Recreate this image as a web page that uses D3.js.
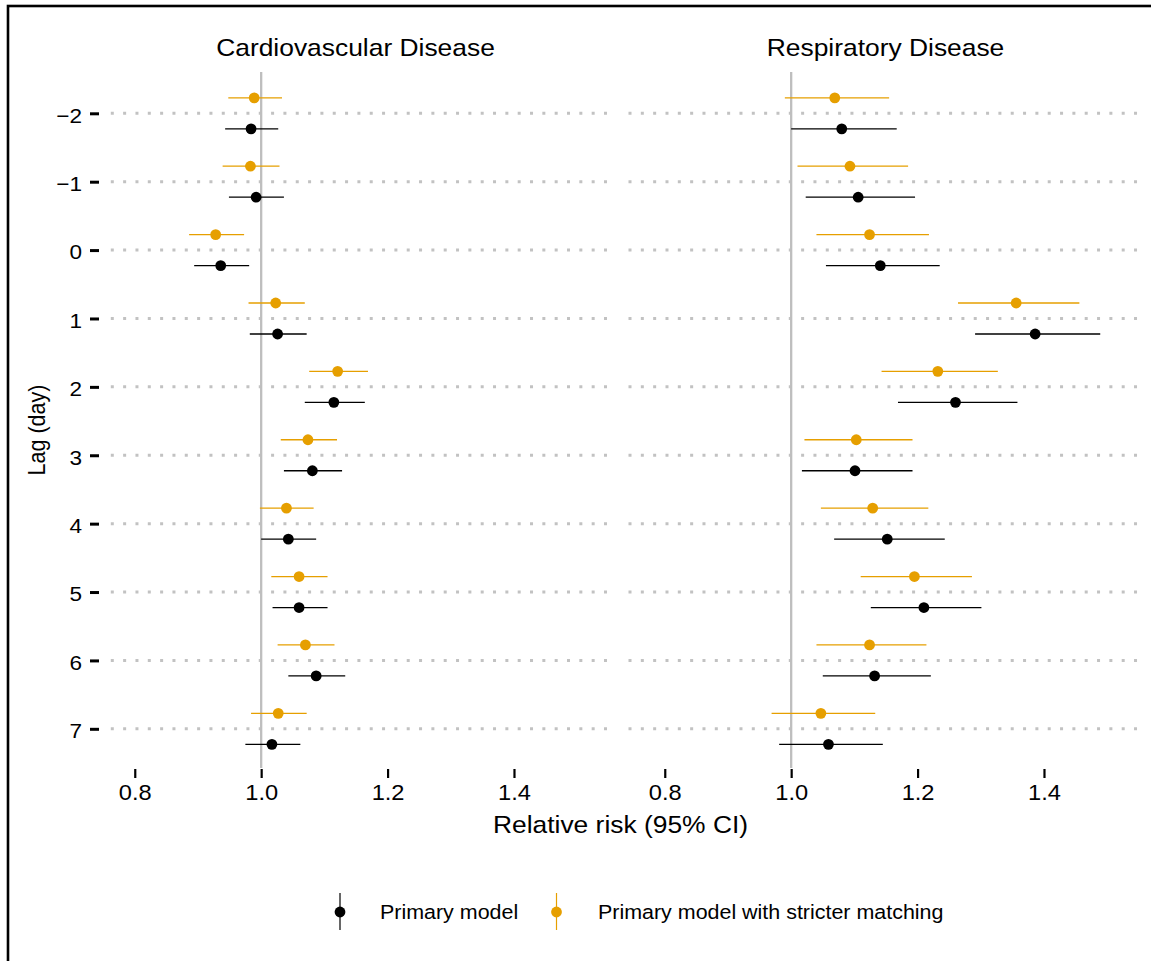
<!DOCTYPE html>
<html>
<head>
<meta charset="utf-8">
<script src="https://cdn.jsdelivr.net/npm/d3@7"></script>
<style>
  html, body { margin: 0; padding: 0; background: #fff; }
  svg { display: block; }
  text { font-family: "Liberation Sans", Arial, Helvetica, sans-serif; fill: #000; }
</style>
</head>
<body>
<svg id="chart" width="1151" height="961"></svg>
<script>
// ---------------- data ----------------
const lags = [-2, -1, 0, 1, 2, 3, 4, 5, 6, 7];
const panels = ["Cardiovascular Disease", "Respiratory Disease"];
const seriesNames = ["Primary model", "Primary model with stricter matching"];
const xTicks = [0.8, 1.0, 1.2, 1.4];

// Cardiovascular – primary model
const cvdPrimary   = [0.984, 0.992, 0.936, 1.026, 1.115, 1.081, 1.043, 1.060, 1.087, 1.017];
const cvdPrimaryLo = [0.943, 0.949, 0.894, 0.982, 1.069, 1.036, 1.000, 1.018, 1.043, 0.975];
const cvdPrimaryHi = [1.027, 1.036, 0.981, 1.072, 1.164, 1.128, 1.087, 1.105, 1.133, 1.062];
// Cardiovascular – stricter matching
const cvdStrict    = [0.989, 0.983, 0.928, 1.023, 1.121, 1.074, 1.040, 1.060, 1.070, 1.027];
const cvdStrictLo  = [0.948, 0.939, 0.886, 0.980, 1.076, 1.031, 0.998, 1.016, 1.026, 0.984];
const cvdStrictHi  = [1.033, 1.029, 0.973, 1.069, 1.169, 1.120, 1.083, 1.105, 1.116, 1.072];
// Respiratory – primary model
const respPrimary   = [1.080, 1.106, 1.141, 1.386, 1.260, 1.101, 1.152, 1.210, 1.132, 1.059];
const respPrimaryLo = [1.000, 1.023, 1.055, 1.291, 1.169, 1.017, 1.068, 1.126, 1.050, 0.981];
const respPrimaryHi = [1.167, 1.196, 1.235, 1.489, 1.358, 1.192, 1.243, 1.301, 1.221, 1.145];
// Respiratory – stricter matching
const respStrict    = [1.069, 1.093, 1.124, 1.356, 1.232, 1.103, 1.129, 1.195, 1.124, 1.047];
const respStrictLo  = [0.990, 1.010, 1.040, 1.264, 1.143, 1.021, 1.047, 1.110, 1.040, 0.969];
const respStrictHi  = [1.155, 1.185, 1.218, 1.456, 1.327, 1.192, 1.217, 1.286, 1.214, 1.133];

// ---------------- build table ----------------
function rows(panel, series, est, lo, hi) {
  return lags.map((lag, i) => ({ panel, series, lag, est: est[i], lo: lo[i], hi: hi[i] }));
}
const data = [].concat(
  rows(0, 0, cvdPrimary, cvdPrimaryLo, cvdPrimaryHi),
  rows(0, 1, cvdStrict, cvdStrictLo, cvdStrictHi),
  rows(1, 0, respPrimary, respPrimaryLo, respPrimaryHi),
  rows(1, 1, respStrict, respStrictLo, respStrictHi)
);

// ---------------- layout ----------------
const svg = d3.select("#chart");
const colors = ["#000000", "#E69F00"];
const SX = 1.1; // horizontal text stretch
const panelTop = 72, panelBottom = 768;
const panelRanges = [[100, 611], [630, 1141]];
const xDomain = [0.745, 1.5535];
const xScales = panelRanges.map(r => d3.scaleLinear().domain(xDomain).range(r));
const y = d3.scaleLinear().domain([-2.604, 7.573]).range([panelTop, panelBottom]);
const dodge = d3.scaleOrdinal().domain([1, 0]).range([-15.5, 15.5]);

// outer border
svg.append("rect").attr("x", 8).attr("y", 6).attr("width", 1400).attr("height", 1200)
  .attr("fill", "none").attr("stroke", "#000").attr("stroke-width", 2.6);

function stretchedText(x, yy, str, size, anchor) {
  return svg.append("text")
    .attr("transform", `translate(${x},${yy}) scale(${SX},1)`)
    .attr("text-anchor", anchor || "middle")
    .style("font-size", size + "px")
    .text(str);
}

panelRanges.forEach((r, p) => {
  const x = xScales[p];
  const g = svg.append("g");
  // dotted horizontal gridlines
  const gx0 = p === 0 ? r[0] + 10.8 : r[0] - 1.5;
  g.selectAll("line.grid").data(lags).join("line")
    .attr("class", "grid")
    .attr("x1", gx0).attr("x2", r[1])
    .attr("y1", d => y(d)).attr("y2", d => y(d))
    .attr("stroke", "#c2c2c2").attr("stroke-width", 3)
    .attr("stroke-dasharray", "3 9.33");
  // reference line at RR = 1
  g.append("line")
    .attr("x1", x(1)).attr("x2", x(1))
    .attr("y1", panelTop).attr("y2", panelBottom)
    .attr("stroke", "#bebebe").attr("stroke-width", 2.3);

  const pd = data.filter(d => d.panel === p);
  // error bars
  g.selectAll("line.ci").data(pd).join("line")
    .attr("class", "ci")
    .attr("x1", d => x(d.lo)).attr("x2", d => x(d.hi))
    .attr("y1", d => y(d.lag) + dodge(d.series)).attr("y2", d => y(d.lag) + dodge(d.series))
    .attr("stroke", d => colors[d.series]).attr("stroke-width", 1.3);
  // points
  g.selectAll("circle.pt").data(pd).join("circle")
    .attr("class", "pt")
    .attr("cx", d => x(d.est)).attr("cy", d => y(d.lag) + dodge(d.series))
    .attr("r", 5.4)
    .attr("fill", d => colors[d.series]);

  // x axis
  const ax = svg.append("g")
    .attr("transform", `translate(0,${panelBottom + 1})`)
    .call(d3.axisBottom(x).tickValues(xTicks).tickFormat(d3.format(".1f")).tickSize(9).tickPadding(7));
  ax.select(".domain").remove();
  ax.selectAll(".tick line").attr("stroke", "#000").attr("stroke-width", 2.2);
  ax.selectAll(".tick text")
    .attr("transform", `scale(${SX},1)`)
    .style("font-size", "21.5px")
    .attr("fill", "#000")
    .style("font-family", '"Liberation Sans", Arial, sans-serif');

  // facet title
  stretchedText((r[0] + r[1]) / 2, 55.5, panels[p], 24);
});

// y axis
const ay = svg.append("g")
  .attr("transform", `translate(99,0)`)
  .call(d3.axisLeft(y).tickValues(lags).tickFormat(d3.format("d")).tickSize(9).tickPadding(6.5));
ay.select(".domain").remove();
ay.selectAll(".tick line").attr("stroke", "#000").attr("stroke-width", 3);
ay.selectAll(".tick text")
  .attr("transform", `scale(${SX},1)`)
  .attr("dy", "0.43em")
  .style("font-size", "20.5px")
  .attr("fill", "#000")
  .style("font-family", '"Liberation Sans", Arial, sans-serif');

// axis titles
stretchedText((panelRanges[0][0] + panelRanges[1][1]) / 2, 833, "Relative risk (95% CI)", 24);
svg.append("text")
  .attr("transform", `translate(45,430) scale(${SX},1) rotate(-90)`)
  .attr("text-anchor", "middle")
  .style("font-size", "21.5px")
  .text("Lag (day)");

// legend
const legendY = 912;
const legendItems = [
  { s: 0, keyX: 340, textX: 380 },
  { s: 1, keyX: 556.5, textX: 598 }
];
legendItems.forEach(it => {
  svg.append("line")
    .attr("x1", it.keyX).attr("x2", it.keyX)
    .attr("y1", legendY - 19).attr("y2", legendY + 18)
    .attr("stroke", colors[it.s]).attr("stroke-width", 1.2);
  svg.append("circle").attr("cx", it.keyX).attr("cy", legendY).attr("r", 5.4).attr("fill", colors[it.s]);
  stretchedText(it.textX, legendY + 7, seriesNames[it.s], 19.5, "start");
});
</script>
</body>
</html>
